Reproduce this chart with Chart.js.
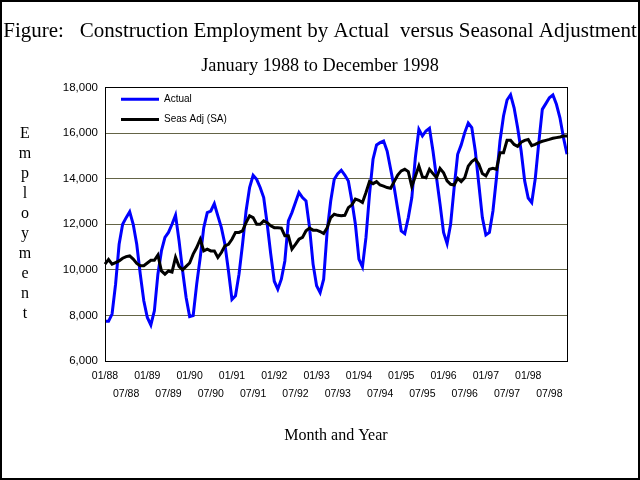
<!DOCTYPE html>
<html>
<head>
<meta charset="utf-8">
<title>Construction Employment</title>
<script src="https://cdn.jsdelivr.net/npm/chart.js@4/dist/chart.umd.min.js"></script>
<style>
  html, body { margin: 0; padding: 0; background: #fff; }
  canvas { display: block; }
</style>
</head>
<body>
<canvas id="employmentChart" width="640" height="480"></canvas>
<script>
// Categories: Jan 1988 .. Dec 1998
const years = ['88', '89', '90', '91', '92', '93', '94', '95', '96', '97', '98'];
const monthNums = ['01', '02', '03', '04', '05', '06', '07', '08', '09', '10', '11', '12'];
const months = [];
years.forEach(y => monthNums.forEach(m => months.push(m + '/' + y)));

// Actual construction employment, one row per year
const actual = [
    7740, 7740, 8060, 9370, 11120, 12000, 12290, 12550, 12000, 11120, 9810, 8640,
    7910, 7580, 8200, 9810, 10830, 11420, 11640, 12000, 12400, 11270, 9960, 8790,
    7950, 7990, 9370, 10540, 11850, 12510, 12580, 12900, 12370, 11850, 11120, 9960,
    8700, 8860, 9810, 11120, 12580, 13610, 14150, 13970, 13610, 13170, 12000, 10690,
    9500, 9150, 9590, 10390, 12150, 12510, 12950, 13390, 13170, 13020, 11850, 10250,
    9300, 9000, 9590, 11710, 13020, 13970, 14220, 14370, 14160, 13900, 13020, 12000,
    10470, 10130, 11420, 13310, 14850, 15480, 15580, 15650, 15210, 14410, 13610, 12660,
    11710, 11590, 12290, 13170, 14920, 16160, 15870, 16090, 16210, 15210, 14040, 12880,
    11640, 11150, 12000, 13610, 15070, 15480, 16020, 16440, 16240, 15210, 13750, 12290,
    11530, 11640, 12580, 14040, 15650, 16750, 17450, 17680, 17110, 16230, 15210, 13900,
    13150, 12950, 14000, 15580, 17040, 17290, 17550, 17670, 17260, 16670, 15800, 15070
];

// Seasonally adjusted series
const seasAdj = [
    10250, 10450, 10250, 10320, 10390, 10510, 10580, 10610, 10470, 10280, 10180, 10180,
    10300, 10420, 10420, 10650, 9950, 9810, 9950, 9900, 10550, 10150, 10000, 10150,
    10300, 10690, 10980, 11340, 10830, 10910, 10830, 10830, 10540, 10760, 11050, 11120,
    11340, 11640, 11640, 11710, 12070, 12370, 12290, 12000, 12000, 12150, 12070, 11930,
    11850, 11850, 11830, 11490, 11490, 10910, 11120, 11340, 11420, 11710, 11830, 11740,
    11740, 11680, 11590, 11850, 12290, 12440, 12390, 12370, 12390, 12730, 12850, 13100,
    13050, 12950, 13390, 13870, 13780, 13870, 13720, 13670, 13610, 13580, 13870, 14160,
    14340, 14410, 14310, 13650, 14100, 14550, 14070, 14040, 14410, 14220, 14040, 14450,
    14260, 13900, 13750, 13720, 14010, 13870, 14040, 14550, 14750, 14860, 14630, 14220,
    14120, 14410, 14450, 14410, 15140, 15140, 15680, 15680, 15500, 15420, 15600, 15680,
    15720, 15450, 15500, 15580, 15640, 15680, 15720, 15770, 15800, 15830, 15870, 15870
];

const yTicks = [6000, 8000, 10000, 12000, 14000, 16000, 18000];
const yTitle = 'Employment';

// white page, outer frame, plot frame, legend placement
const framePlugin = {
    id: 'frames',
    afterLayout(chart) {
        // legend sits inside the plot, top-left corner
        const lg = chart.legend;
        const a = chart.chartArea;
        if (!lg) return;
        const h = lg.bottom - lg.top;
        const w = lg.right - lg.left;
        lg.top = a.top - 3.5;
        lg.bottom = lg.top + h;
        lg.left = a.left + 5.7;
        lg.right = lg.left + w;
    },
    beforeDraw(chart) {
        const ctx = chart.ctx;
        ctx.save();
        ctx.fillStyle = '#fff';
        ctx.fillRect(0, 0, chart.width, chart.height);
        ctx.restore();
    },
    afterDatasetsDraw(chart) {
        const {ctx, chartArea: a} = chart;
        ctx.save();
        ctx.strokeStyle = '#000';
        ctx.lineWidth = 1;
        ctx.strokeRect(Math.round(a.left) + 0.5, Math.round(a.top) + 0.5,
            Math.round(a.right - a.left), Math.round(a.bottom - a.top));
        ctx.restore();
    },
    afterDraw(chart) {
        const ctx = chart.ctx;
        ctx.save();
        ctx.strokeStyle = '#000';
        ctx.lineWidth = 2;
        ctx.strokeRect(1, 1, chart.width - 2, chart.height - 2);
        // stacked y axis title
        ctx.fillStyle = '#000';
        ctx.font = '16px "Liberation Serif", serif';
        ctx.textAlign = 'center';
        ctx.textBaseline = 'alphabetic';
        yTitle.split('').forEach((ch, i) => ctx.fillText(ch, 25, 138 + 20 * i));
        ctx.restore();
    }
};

new Chart(document.getElementById('employmentChart'), {
    type: 'line',
    data: {
        labels: months,
        datasets: [{
            label: 'Actual',
            data: actual,
            borderColor: '#0000ff',
            backgroundColor: '#0000ff',
            borderWidth: 3,
            pointRadius: 0,
            tension: 0,
            order: 1
        }, {
            label: 'Seas Adj (SA)',
            data: seasAdj,
            borderColor: '#000000',
            backgroundColor: '#000000',
            borderWidth: 3,
            pointRadius: 0,
            tension: 0,
            order: 0
        }]
    },
    options: {
        responsive: false,
        animation: false,
        layout: { padding: 0 },
        plugins: {
            title: {
                display: true,
                text: 'Figure:   Construction Employment by Actual  versus Seasonal Adjustment',
                color: '#000',
                font: { family: '"Liberation Serif", serif', size: 21, weight: 'normal' },
                padding: { top: 19, bottom: 3.5 }
            },
            subtitle: {
                display: true,
                text: 'January 1988 to December 1998',
                color: '#000',
                font: { family: '"Liberation Serif", serif', size: 18.3, weight: 'normal' },
                padding: { top: 7.5, bottom: 10.3 }
            },
            legend: {
                position: 'chartArea',
                align: 'start',
                labels: {
                    color: '#000',
                    font: { family: '"Liberation Sans", sans-serif', size: 10 },
                    usePointStyle: true,
                    pointStyle: 'line',
                    pointStyleWidth: 38,
                    padding: 10.3,
                    sort: (a, b) => a.datasetIndex - b.datasetIndex
                }
            },
            tooltip: { enabled: false }
        },
        scales: {
            x: {
                offset: false,
                grid: { display: false, drawTicks: false },
                border: { color: '#000', width: 1 },
                ticks: {
                    autoSkip: false,
                    maxRotation: 0,
                    minRotation: 0,
                    padding: 5.75,
                    color: '#000',
                    font: { family: '"Liberation Sans", sans-serif', size: 10.5, lineHeight: 1.76 },
                    callback: function(value) {
                        const lab = this.getLabelForValue(value);
                        if (lab.startsWith('01/')) return lab;
                        if (lab.startsWith('07/')) return ['', lab];
                        return '';
                    }
                },
                title: {
                    display: true,
                    text: 'Month and Year',
                    color: '#000',
                    font: { family: '"Liberation Serif", serif', size: 16, weight: 'normal' },
                    padding: { top: 0, bottom: 34.4 }
                },
                afterFit: scale => { scale.height = 119; }
            },
            y: {
                min: yTicks[0],
                max: yTicks[yTicks.length - 1],
                grid: { color: '#646446', drawTicks: false },
                border: { color: '#000', width: 1 },
                ticks: {
                    stepSize: 2000,
                    padding: 7,
                    color: '#000',
                    font: { family: '"Liberation Sans", sans-serif', size: 11.5 },
                    callback: v => v.toLocaleString('en-US')
                },
                afterFit: scale => { scale.width = 105; }
            },
            // empty right-hand axis that only reserves the margin
            yRight: {
                position: 'right',
                grid: { display: false, drawTicks: false },
                border: { display: false },
                ticks: { display: false },
                afterFit: scale => { scale.width = 73; }
            }
        }
    },
    plugins: [framePlugin]
});
</script>
</body>
</html>
